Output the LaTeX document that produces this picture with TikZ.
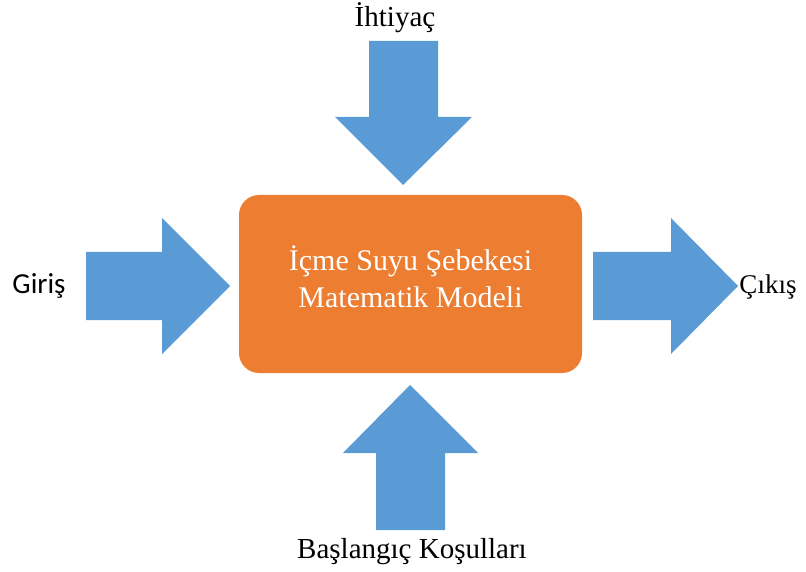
\documentclass[tikz,border=0pt]{standalone}
\usepackage{fontspec}
\setmainfont{Liberation Serif}
\newfontfamily\calfont{Carlito}
\definecolor{arrowblue}{HTML}{5B9BD5}
\definecolor{boxorange}{HTML}{ED7D31}
\begin{document}
\begin{tikzpicture}[x=1pt,y=-1pt,
  bigarrow/.style={fill=arrowblue,draw=none},
  lbl/.style={inner sep=0pt,anchor=base,font=\fontsize{29}{34}\selectfont}]
\useasboundingbox (0,0) rectangle (806,572);
% central box
\node[fill=boxorange,rounded corners=20pt,minimum width=343pt,minimum height=178pt,inner sep=0pt] (model) at (410.5,284) {};
\node[text=white,align=center,inner sep=0pt,font=\fontsize{30}{37}\selectfont] (modeltext) at (410.5,277)
  {İçme Suyu Şebekesi\\Matematik Modeli};
% top arrow
\fill[bigarrow] (369,41) -- (438,41) -- (438,117) -- (472,117) -- (403,185) -- (335,117) -- (369,117) -- cycle;
% bottom arrow
\fill[bigarrow] (376,530) -- (445,530) -- (445,453) -- (478,453) -- (410,385) -- (343,453) -- (376,453) -- cycle;
% left arrow
\fill[bigarrow] (86,252) -- (162,252) -- (162,218) -- (230,286) -- (162,354) -- (162,320) -- (86,320) -- cycle;
% right arrow
\fill[bigarrow] (593,252) -- (671,252) -- (671,218) -- (738,286) -- (671,354) -- (671,320) -- (593,320) -- cycle;
% labels
\node[lbl] (ihtiyac) at (395,27) {İhtiyaç};
\node[lbl] (baslangic) at (412,558) {Başlangıç Koşulları};
\node[lbl,font=\calfont\fontsize{29}{34}\selectfont] (giris) at (39,294) {Giriş};
\node[lbl,font=\fontsize{27}{32}\selectfont] (cikis) at (768,294) {Çıkış};
\end{tikzpicture}
\end{document}
